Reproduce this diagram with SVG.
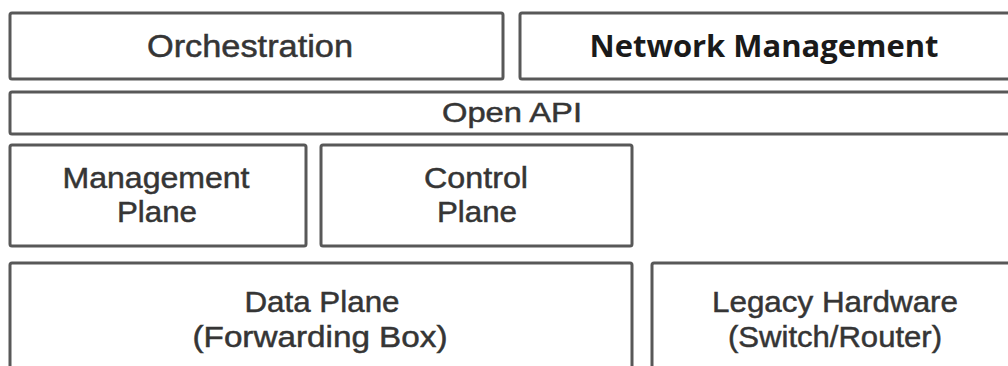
<svg xmlns="http://www.w3.org/2000/svg" width="1008" height="366" viewBox="0 0 1008 366">
<style>
.box{fill:#ffffff;stroke:#585858;stroke-width:3}
.t{font-family:"Liberation Sans",Arial,sans-serif;fill:#353535;stroke:#353535;stroke-width:0.5;text-anchor:middle}
.b{font-family:"Open Sans","Noto Sans",sans-serif;font-weight:bold;fill:#1a1a1a;text-anchor:middle}
</style>
<rect width="1008" height="366" fill="#ffffff"/>
<g id="orchestration">
<rect class="box" x="10" y="13" width="493" height="66" rx="2"/>
<text class="t" x="250" y="57" font-size="31" textLength="206" lengthAdjust="spacingAndGlyphs">Orchestration</text>
</g>
<g id="network-management">
<rect class="box" x="520" y="13" width="500" height="66" rx="2"/>
<text class="b" x="764" y="57" font-size="30" textLength="349" lengthAdjust="spacingAndGlyphs">Network Management</text>
</g>
<g id="open-api">
<rect class="box" x="10" y="92" width="1010" height="42" rx="2"/>
<text class="t" x="512" y="122" font-size="28" textLength="140" lengthAdjust="spacingAndGlyphs">Open API</text>
</g>
<g id="management-plane">
<rect class="box" x="10" y="145" width="296" height="101" rx="2"/>
<text class="t" x="156" y="188" font-size="30" textLength="187" lengthAdjust="spacingAndGlyphs">Management</text>
<text class="t" x="157" y="222" font-size="30" textLength="80" lengthAdjust="spacingAndGlyphs">Plane</text>
</g>
<g id="control-plane">
<rect class="box" x="321" y="145" width="311" height="101" rx="2"/>
<text class="t" x="476" y="188" font-size="30" textLength="104" lengthAdjust="spacingAndGlyphs">Control</text>
<text class="t" x="477" y="222" font-size="30" textLength="80" lengthAdjust="spacingAndGlyphs">Plane</text>
</g>
<g id="data-plane">
<rect class="box" x="10" y="263" width="622" height="120" rx="2"/>
<text class="t" x="322" y="312" font-size="30" textLength="155" lengthAdjust="spacingAndGlyphs">Data Plane</text>
<text class="t" x="320" y="347" font-size="30" textLength="255" lengthAdjust="spacingAndGlyphs">(Forwarding Box)</text>
</g>
<g id="legacy-hardware">
<rect class="box" x="652" y="263" width="370" height="120" rx="2"/>
<text class="t" x="835" y="312" font-size="30" textLength="246" lengthAdjust="spacingAndGlyphs">Legacy Hardware</text>
<text class="t" x="835" y="347" font-size="30" textLength="214" lengthAdjust="spacingAndGlyphs">(Switch/Router)</text>
</g>
<g id="connectors"></g>
</svg>
